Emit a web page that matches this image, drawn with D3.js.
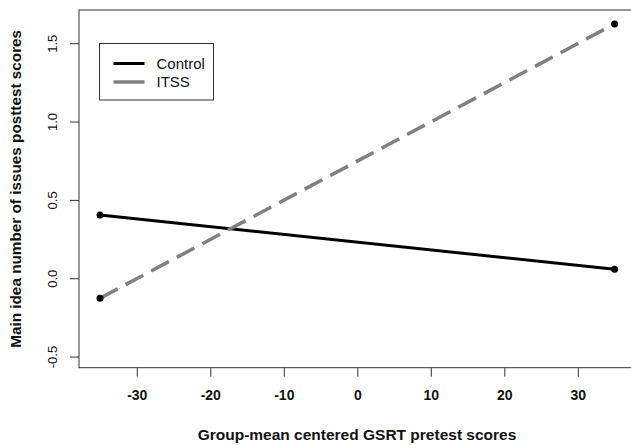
<!DOCTYPE html>
<html>
<head>
<meta charset="utf-8">
<script src="https://cdn.jsdelivr.net/npm/d3@7"></script>
<style>
  body { margin: 0; background: #fff; }
  svg { display: block; font-family: "Liberation Sans", Arial, sans-serif; }
</style>
</head>
<body>
<div id="chart"></div>
<script>
const xEnds = [-35, 35];
const controlValues = [0.404, 0.057];
const itssValues = [-0.128, 1.623];
const seriesNames = ["Control", "ITSS"];
const xTicks = [-30, -20, -10, 0, 10, 20, 30];
const yTicks = [-0.5, 0.0, 0.5, 1.0, 1.5];

const width = 631;
const height = 445;

const svg = d3.select("#chart")
  .append("svg")
  .attr("width", width)
  .attr("height", height);

// plain hyphen for minus, like the reference
const fmtX = (d) => String(d);
const fmtY = (d) => d.toFixed(1);

// plot region (right edge runs off the picture, like the reference)
const x = d3.scaleLinear().domain([-37.86, 37.86]).range([79, 635.6]);
const y = d3.scaleLinear().domain([-0.571, 1.712]).range([367.7, 10]);

// box
svg.append("rect")
  .attr("x", x.range()[0])
  .attr("y", y.range()[1])
  .attr("width", x.range()[1] - x.range()[0])
  .attr("height", y.range()[0] - y.range()[1])
  .attr("fill", "none")
  .attr("stroke", "#333")
  .attr("stroke-width", 1);

// x axis
const xAxis = svg.append("g")
  .attr("transform", `translate(0,${y.range()[0]})`)
  .call(d3.axisBottom(x).tickValues(xTicks).tickSize(9).tickPadding(13).tickFormat(fmtX));
xAxis.select(".domain").remove();
xAxis.selectAll(".tick line").attr("stroke", "#333");
xAxis.selectAll(".tick text")
  .attr("font-size", "14px")
  .attr("font-weight", "bold")
  .attr("fill", "#111")
  .attr("font-family", "Liberation Sans, Arial, sans-serif");

// y axis
const yAxis = svg.append("g")
  .attr("transform", `translate(${x.range()[0]},0)`)
  .call(d3.axisLeft(y).tickValues(yTicks).tickSize(9).tickFormat(fmtY));
yAxis.select(".domain").remove();
yAxis.selectAll(".tick line").attr("stroke", "#333");
yAxis.selectAll(".tick text")
  .attr("x", null)
  .attr("text-anchor", "middle")
  .attr("transform", "translate(-27,0) rotate(-90)")
  .attr("dy", "0.35em")
  .attr("font-size", "13px")
  .attr("fill", "#111")
  .attr("font-family", "Liberation Sans, Arial, sans-serif");

// axis titles
svg.append("text")
  .attr("x", 357)
  .attr("y", 440)
  .attr("text-anchor", "middle")
  .attr("font-size", "15.5px")
  .attr("font-weight", "bold")
  .attr("fill", "#111")
  .text("Group-mean centered GSRT pretest scores");

svg.append("text")
  .attr("transform", `translate(20.5,${(y.range()[0] + y.range()[1]) / 2}) rotate(-90)`)
  .attr("text-anchor", "middle")
  .attr("font-size", "15.3px")
  .attr("font-weight", "bold")
  .attr("fill", "#111")
  .text("Main idea number of issues posttest scores");

// lines
const series = [
  { name: seriesNames[0], values: controlValues, color: "#000", dash: null, width: 3 },
  { name: seriesNames[1], values: itssValues, color: "#808080", dash: "20,9", width: 3.5 }
];

const line = d3.line()
  .x((d, i) => x(xEnds[i]))
  .y((d) => y(d));

series.forEach((s) => {
  svg.append("path")
    .datum(s.values)
    .attr("d", line)
    .attr("fill", "none")
    .attr("stroke", s.color)
    .attr("stroke-width", s.width)
    .attr("stroke-dasharray", s.dash);

  svg.selectAll(null)
    .data(s.values)
    .enter()
    .append("circle")
    .attr("cx", (d, i) => x(xEnds[i]))
    .attr("cy", (d) => y(d))
    .attr("r", 3.5)
    .attr("fill", "#000");
});

// legend
const legend = svg.append("g").attr("transform", "translate(99.5,43.5)");
legend.append("rect")
  .attr("width", 114)
  .attr("height", 56.5)
  .attr("fill", "#fff")
  .attr("stroke", "#333")
  .attr("stroke-width", 1);

series.forEach((s, i) => {
  const ly = 20 + i * 18.5;
  legend.append("line")
    .attr("x1", 14)
    .attr("x2", 45)
    .attr("y1", ly)
    .attr("y2", ly)
    .attr("stroke", s.color)
    .attr("stroke-width", s.width);
  legend.append("text")
    .attr("x", 57)
    .attr("y", ly)
    .attr("dy", "0.35em")
    .attr("font-size", "15px")
    .attr("fill", "#111")
    .text(s.name);
});
</script>
</body>
</html>
